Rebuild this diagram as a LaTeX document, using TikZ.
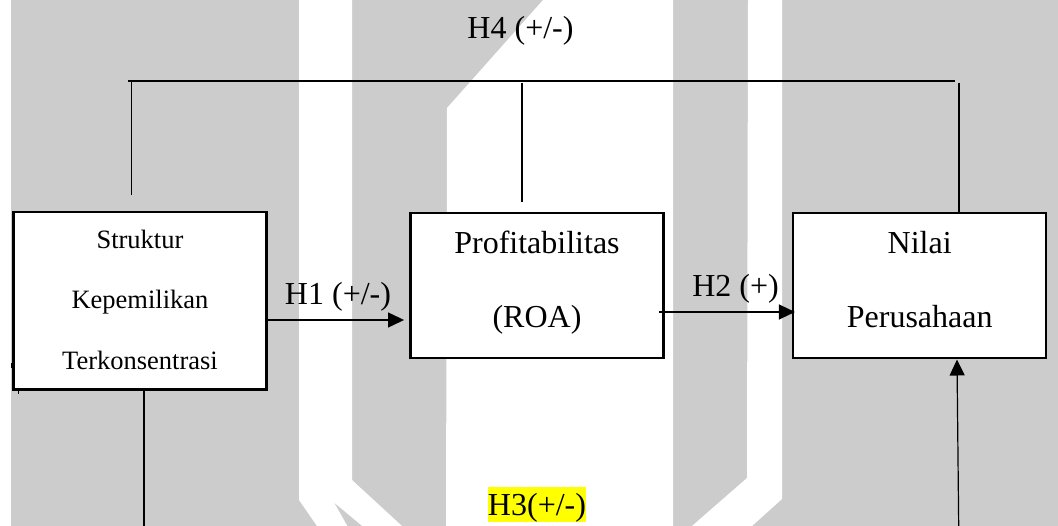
\documentclass[tikz,border=0pt]{standalone}
\usepackage{fontspec}
\setmainfont{Liberation Serif}
\usetikzlibrary{arrows.meta,calc}
\definecolor{bggray}{RGB}{204,204,204}
\definecolor{hlyellow}{RGB}{255,255,0}
\tikzset{
  box/.style={draw=black, line width=2.5pt, fill=white, inner sep=0pt},
  conn/.style={draw=black, line width=1.2pt},
  arr/.style={conn, -{Triangle[length=16pt,width=15pt]}},
  big/.style={font=\fontsize{32}{38}\selectfont, inner sep=0pt, anchor=base},
  small/.style={font=\fontsize{26.5}{32}\selectfont, inner sep=0pt, anchor=base},
  wm/.style={fill=white, draw=none}
}
\begin{document}
\begin{tikzpicture}[x=1pt,y=-1pt]
\useasboundingbox (0,0) rectangle (1058,526);
% background
\fill[white] (0,0) rectangle (1058,526);
\fill[bggray] (11,0) rectangle (1058,526);
% watermark shapes
\fill[wm] (299,0) -- (352,0) -- (352,480) -- (402,526) -- (317,526) -- (299,500) -- cycle;
\fill[bggray] (334.7,503.3) -- (347.5,526) -- (362,526) -- cycle;
\fill[wm] (447,108) -- (543,0) -- (673,0) -- (673,526) -- (446,526) -- cycle;
\fill[wm] (748,0) -- (782,0) -- (782,499) -- (752,526) -- (692,526) -- (747,478) -- cycle;
% boxes
\node[box, minimum width=252.6pt, minimum height=177.5pt] (sk) at (140,300.8) {};
\node[box, minimum width=253.4pt, minimum height=145.2pt] (roa) at (537,285.4) {};
\node[box, minimum width=253pt, minimum height=145pt] (nilai) at (919.7,285.5) {};
% box texts
\node[small] (sk1) at (140,248.3) {Struktur};
\node[small] (sk2) at (140,309) {Kepemilikan};
\node[small] (sk3) at (140,370) {Terkonsentrasi};
\node[big] (roa1) at (537,253.3) {Profitabilitas};
\node[big] (roa2) at (537,327.7) {(ROA)};
\node[big] (nilai1) at (919.7,253.3) {Nilai};
\node[big] (nilai2) at (919.7,327.7) {Perusahaan};
% labels
\node[big] (h1) at (338,305) {H1 (+/-)};
\node[big] (h2) at (735.5,296.7) {H2 (+)};
\node[big] (h4) at (520.5,38.3) {H4 (+/-)};
\node[big, fill=hlyellow, text height=28.5pt, text depth=7pt] (h3) at (537,515) {H3(+/-)};
% H1, H2 arrows
\draw[arr, shorten >=5pt] (sk.east |- 0,320) -- (roa.west |- 0,320);
\draw[arr, shorten >=-3pt] ($(roa.east |- 0,312)+(-6,0)$) -- (nilai.west |- 0,312);
% H4 bracket
\coordinate (tl) at (128,81);
\coordinate (tr) at (955,81);
\coordinate (lv) at (131.7,81);
\coordinate (lvb) at (131.7,195);
\coordinate (mv) at (522,83);
\coordinate (mvb) at (522,202);
\coordinate (rv) at (959,83);
\draw[conn] (tl) -- (tr);
\draw[conn] (lv) -- (lvb);
\draw[conn] (mv) -- (mvb);
\draw[conn] (rv) -- (rv |- nilai.north);
% H3 lines
\coordinate (h3l) at (144,526);
\coordinate (h3r) at (958.7,526);
\draw[conn] (sk.south -| h3l) -- (h3l);
\draw[arr] (h3r) -- (957,359.5);
% small artifacts at box 1
\draw[line width=1pt] (11.5,363) -- (11.5,368);
\draw[line width=1pt] (18.5,391) -- (18.5,394);
\end{tikzpicture}
\end{document}
